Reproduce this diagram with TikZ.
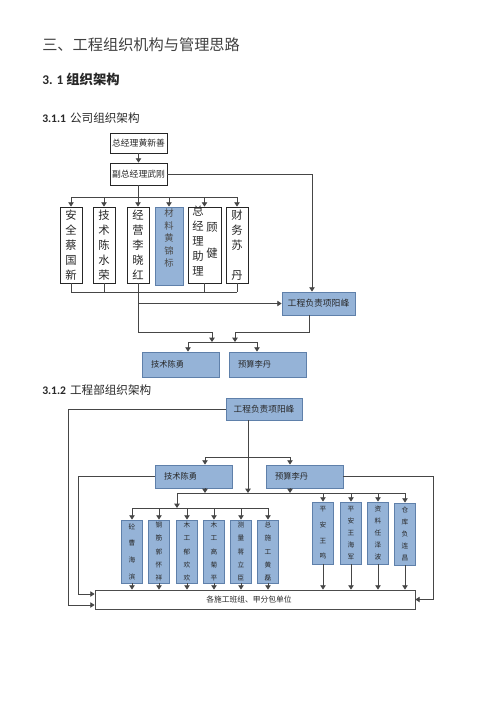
\documentclass[tikz,border=0pt]{standalone}
\usepackage{fontspec}
\newfontfamily\cjk{Noto Sans CJK SC}
\newfontfamily\lat{Carlito}
\usetikzlibrary{arrows.meta,calc}
\definecolor{bfill}{RGB}{149,179,215}
\definecolor{bdraw}{RGB}{95,128,170}
\definecolor{ln}{RGB}{70,70,70}
\definecolor{tx}{RGB}{40,40,40}
\begin{document}
\begin{tikzpicture}[x=0.75pt,y=-0.75pt, font=\cjk, text=tx,
  wbox/.style={draw=black!85, line width=0.6pt, fill=white, inner sep=0pt},
  bbox/.style={draw=bdraw, line width=0.6pt, fill=bfill, inner sep=0pt},
  conn/.style={draw=ln, line width=0.6pt},
  arr/.style={conn, -{Triangle[length=3.2pt,width=4pt]}},
  vt/.style={align=center, font=\cjk\fontsize{8.5}{11.25}\selectfont},
  htxt/.style={font=\cjk\fontsize{6.6}{8}\selectfont},
  ltxt/.style={font=\cjk\fontsize{6.2}{8}\selectfont},
  cbox/.style={bbox, minimum width=15.75pt, minimum height=47.25pt, align=center},
  rbox/.style={bbox, minimum width=16pt, minimum height=46.5pt, align=center},
  ffour/.style={font=\cjk\fontsize{5}{12.5}\selectfont},
  ffive/.style={font=\cjk\fontsize{5}{10}\selectfont},
  rfour/.style={font=\cjk\fontsize{5}{11.8}\selectfont},
  rfive/.style={font=\cjk\fontsize{5}{9}\selectfont},
]
\useasboundingbox (0,0) rectangle (500,708);

% headings
\node[anchor=west, inner sep=0pt, font=\cjk\fontsize{11.4}{13}\selectfont, text=black!75] (title) at (42,45) {三、工程组织机构与管理思路};
\node[anchor=west, inner sep=0pt, font=\fontsize{10}{12}\selectfont\bfseries] (h1) at (42,79) {\lat 3. 1 \cjk 组织架构};
\node[anchor=west, inner sep=0pt, font=\fontsize{8.7}{10}\selectfont] (h2) at (42,118) {{\lat\bfseries 3.1.1} \cjk 公司组织架构};
\node[anchor=west, inner sep=0pt, font=\fontsize{8.7}{10}\selectfont] (h3) at (42,390) {{\lat\bfseries 3.1.2} \cjk 工程部组织架构};

% ---------- company chart ----------
\node[wbox, minimum width=42.75pt, minimum height=15pt, htxt] (gm) at (138.5,143) {总经理黄新善};
\node[wbox, minimum width=42.75pt, minimum height=16.5pt, htxt] (vgm) at (138.5,174) {副总经理武刚};

\node[wbox, vt, minimum width=16.5pt, minimum height=57pt] (b1) at (71,245) {安\\全\\蔡\\国\\新};
\node[wbox, vt, minimum width=16.5pt, minimum height=57pt] (b2) at (104,245) {技\\术\\陈\\水\\荣};
\node[wbox, vt, minimum width=16.5pt, minimum height=57pt] (b3) at (138,245) {经\\营\\李\\晓\\红};
\node[bbox, minimum width=21pt, minimum height=58.5pt] (b4) at (169,246) {};
\node[align=center, inner sep=0pt, font=\cjk\fontsize{7}{9.4}\selectfont, text=black!70] (b4t) at (169,238) {材\\料\\黄\\锦\\标};
\node[wbox, minimum width=24.75pt, minimum height=57pt] (b5) at (204.5,245) {};
\node[vt, inner sep=0pt] (b5a) at (198,241) {总\\经\\理\\助\\理};
\node[vt, inner sep=0pt] (b5b) at (212,240) {顾\\[8.25pt]健};
\node[wbox, vt, minimum width=16.5pt, minimum height=57pt] (b6) at (237,245) {财\\务\\苏\\\phantom{丹}\\丹};

\node[bbox, minimum width=54.75pt, minimum height=17.25pt, htxt] (pm) at (318.5,303.5) {工程负责项阳峰};
\node[bbox, minimum height=18.75pt, text width=44.25pt, inner xsep=6.75pt, align=left, ltxt] (tech) at (180.5,364.5) {技术陈勇};
\node[bbox, minimum height=18.75pt, text width=44.25pt, inner xsep=6.75pt, align=left, ltxt] (bud) at (267.5,364.5) {预算李丹};

\draw[arr] (gm) -- (vgm);
\coordinate (tb) at (0,197);
\draw[conn] (vgm.south) -- (vgm.south |- tb);
\draw[conn] (b1.north |- tb) -- (b6.north |- tb);
\foreach \b in {b1,b2,b3,b4,b5,b6} \draw[arr] (\b.north |- tb) -- (\b.north);

\coordinate (pmt) at ($(pm.north)+(-6.5,0)$);
\draw[arr] (vgm.east) -- (vgm.east -| pmt) -- (pmt);

\coordinate (bb) at (0,292);
\foreach \b in {b1,b2,b3,b5,b6} \draw[conn] (\b.south) -- (\b.south |- bb);
\draw[conn] (b1.south |- bb) -- (b6.south |- bb);
\draw[arr] (b3.south |- pm.west) -- (pm.west);

\coordinate (j1) at (212,332);
\coordinate (j2) at (235,332);
\coordinate (hA) at (188,342);
\coordinate (hB) at (257,342);
\coordinate (pmb) at ($(pm.south)+(-9.5,0)$);
\draw[conn] (b3.south |- bb) -- (b3.south |- j1) -- (j1);
\draw[arr] (j1) -- (j1 |- hA);
\draw[conn] (pmb) -- (pmb |- j2) -- (j2);
\draw[arr] (j2) -- (j2 |- hA);
\draw[conn] (hA) -- (hB);
\draw[arr] (hA) -- (hA |- tech.north);
\draw[arr] (hB) -- (hB |- bud.north);

% ---------- project chart ----------
\node[bbox, minimum width=57pt, minimum height=16.5pt, font=\cjk\fontsize{6.5}{8}\selectfont] (pm2) at (264,409) {工程负责项阳峰};
\node[bbox, minimum height=17.25pt, text width=44.25pt, inner xsep=6.75pt, align=left, ltxt] (tech2) at (193.5,476.5) {技术陈勇};
\node[bbox, minimum height=17.25pt, text width=44.25pt, inner xsep=6.75pt, align=left, ltxt] (bud2) at (304.5,476.5) {预算李丹};

\node[cbox, ffour] (c1) at (132,551.5) {砼\\曹\\海\\滨};
\node[cbox, ffive] (c2) at (159,551.5) {钢\\筋\\郭\\怀\\祥};
\node[cbox, ffive] (c3) at (187,551.5) {木\\工\\郁\\欢\\欢};
\node[cbox, ffive] (c4) at (214,551.5) {木\\工\\高\\菊\\平};
\node[cbox, ffive] (c5) at (241,551.5) {测\\量\\蒋\\立\\臣};
\node[cbox, ffive] (c6) at (268,551.5) {总\\施\\工\\黄\\磊};

\node[rbox, rfour] (r1) at (323,533) {平\\安\\王\\鸣};
\node[rbox, rfive] (r2) at (351,533) {平\\安\\王\\海\\军};
\node[rbox, rfive] (r3) at (378,533) {资\\料\\任\\泽\\波};
\node[rbox, rfive] (r4) at (405,534) {仓\\库\\负\\连\\昌};

\node[draw=black!70, line width=0.6pt, fill=white, inner sep=0pt, minimum width=240pt, minimum height=14.25pt] (all) at (255,599.5) {};
\node[inner sep=0pt, font=\cjk\fontsize{5.8}{7}\selectfont] (allt) at (249,600) {各施工班组、甲分包单位};

% left/right feedback lines
\coordinate (L1) at (68,605);
\coordinate (L2) at (78,594);
\coordinate (R1) at (433,599.5);
\draw[arr] (pm2.west) -| (L1) -- (L1 -| all.west);
\draw[arr] (tech2.west) -| (L2) -- (L2 -| all.west);
\draw[arr] (bud2.east) -| (R1) -- (R1 -| all.east);

% down from pm2
\coordinate (p2b) at ($(pm2.south)+(-16,0)$);
\coordinate (tk) at (205,457);
\coordinate (bk) at (290,457);
\coordinate (m2L) at (177,493);
\coordinate (m3) at (177,508);
\draw[conn] (tk) -- (bk);
\draw[arr] (p2b) -- (p2b |- m2L);
\draw[arr] (tk) -- (tk |- tech2.north);
\draw[arr] (bk) -- (bk |- bud2.north);
\draw[arr] (tk |- tech2.south) -- (tk |- m2L);
\draw[arr] (bk |- bud2.south) -- (bk |- m2L);
\draw[conn] (m2L) -- (r4.north |- m2L);
\foreach \b in {r1,r2,r3,r4} \draw[arr] (\b.north |- m2L) -- (\b.north);
\draw[arr] (m2L) -- (m3);
\draw[conn] (c1.north |- m3) -- (c6.north |- m3);
\foreach \b in {c1,c2,c3,c4,c5,c6} \draw[arr] (\b.north |- m3) -- (\b.north);
\foreach \b in {c1,c2,c3,c4,c5,c6,r1,r2,r3,r4} \draw[arr] (\b.south) -- (\b.south |- all.north);
\end{tikzpicture}
\end{document}
